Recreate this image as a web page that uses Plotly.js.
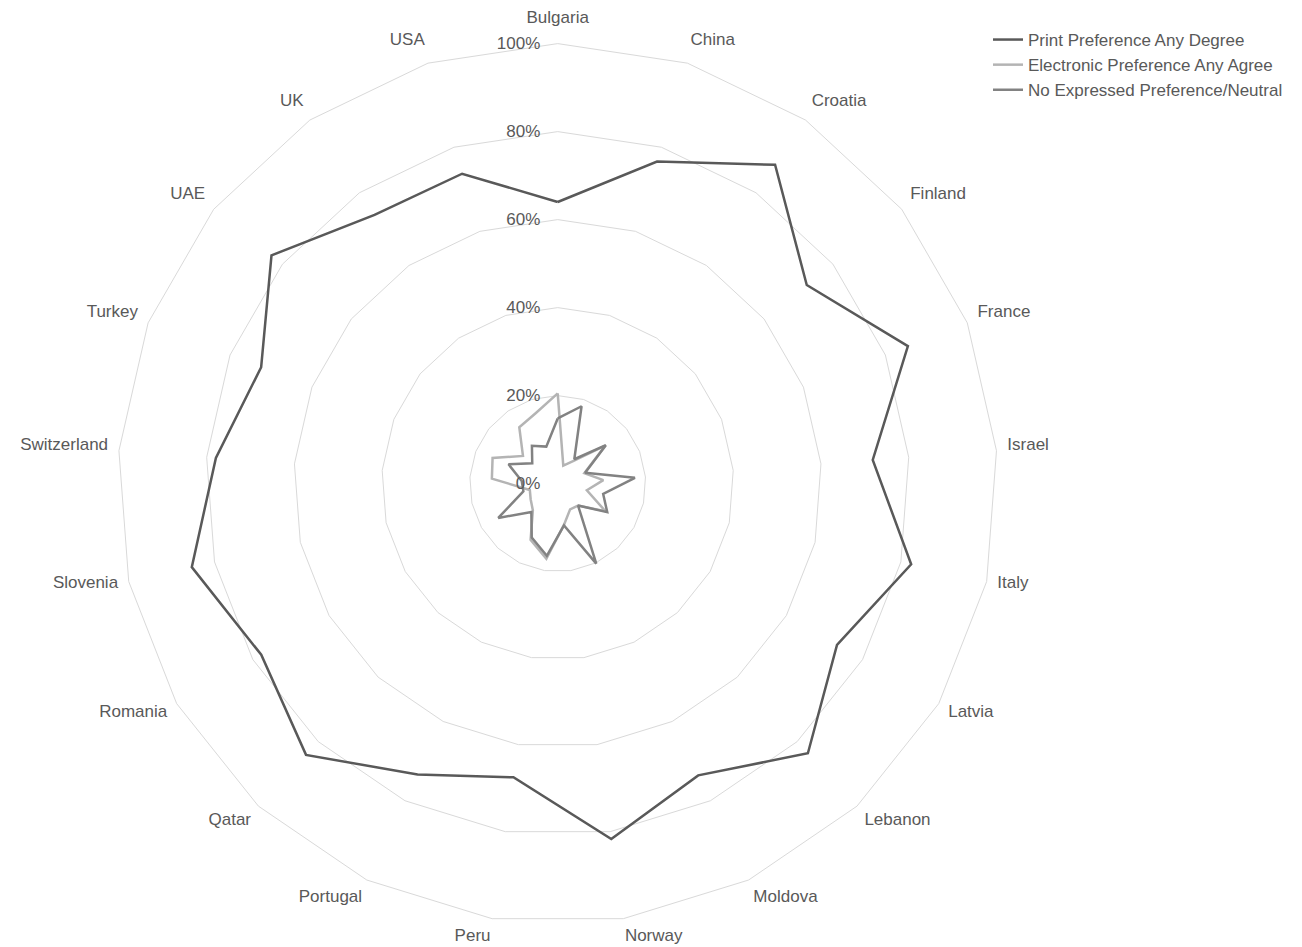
<!DOCTYPE html>
<html>
<head>
<meta charset="utf-8">
<script src="https://cdn.plot.ly/plotly-3.0.1.min.js"></script>
<style>html,body{margin:0;padding:0;background:#fff;}#chart{width:1302px;height:947px;}</style>
</head>
<body>
<div id="chart"></div>
<script>
const countries = ["Bulgaria","China","Croatia","Finland","France","Israel","Italy","Latvia","Lebanon","Moldova","Norway","Peru","Portugal","Qatar","Romania","Slovenia","Switzerland","Turkey","UAE","UK","USA"];
const printPref = [0.640,0.766,0.877,0.724,0.855,0.718,0.824,0.733,0.836,0.736,0.817,0.675,0.734,0.841,0.778,0.853,0.779,0.724,0.832,0.739,0.737];
const electronicPref = [0.205,0.043,0.062,0.138,0.065,0.104,0.068,0.125,0.068,0.065,0.095,0.173,0.142,0.083,0.071,0.065,0.150,0.159,0.101,0.155,0.168];
const neutralPref = [0.148,0.184,0.067,0.140,0.067,0.176,0.106,0.130,0.068,0.202,0.096,0.166,0.136,0.088,0.156,0.080,0.082,0.120,0.074,0.104,0.088];
const radialTicks = [0,0.2,0.4,0.6,0.8,1.0];
const radialTickText = ["0%","20%","40%","60%","80%","100%"];

function closed(arr){ return arr.concat([arr[0]]); }

const series = [
  {name:"Print Preference Any Degree", values: printPref, color:"#595959"},
  {name:"Electronic Preference Any Agree", values: electronicPref, color:"#b4b4b4"},
  {name:"No Expressed Preference/Neutral", values: neutralPref, color:"#828282"}
];

const traces = series.map(s => ({
  type:"scatterpolar",
  mode:"lines",
  name:s.name,
  r: closed(s.values),
  theta: closed(countries),
  line:{color:s.color, width:2.5},
  hoverinfo:"skip"
}));

// empty trace that only carries the category labels on a second, transparent polar frame
traces.push({
  type:"scatterpolar",
  mode:"lines",
  subplot:"polar2",
  r:[],
  theta:[],
  showlegend:false,
  hoverinfo:"skip"
});

const W = 1302, H = 947, cx = 557.7, cy = 483.6, R = 440;
const labelShift = 6;

const layout = {
  width:W, height:H,
  margin:{l:0,r:0,t:0,b:0},
  paper_bgcolor:"#ffffff",
  plot_bgcolor:"#ffffff",
  font:{family:"Liberation Sans, Arial, sans-serif", size:17, color:"#595959"},
  showlegend:true,
  legend:{
    x:988/W, y:1-22/H, xanchor:"left", yanchor:"top",
    bgcolor:"rgba(0,0,0,0)",
    font:{size:17, color:"#595959"},
    itemwidth:30, tracegroupgap:0
  },
  polar:{
    domain:{x:[(cx-R)/W,(cx+R)/W], y:[1-(cy+R)/H, 1-(cy-R)/H]},
    bgcolor:"#ffffff",
    gridshape:"linear",
    angularaxis:{
      type:"category",
      categoryarray:countries,
      direction:"clockwise",
      rotation:90,
      showgrid:false,
      showline:true,
      linecolor:"#d9d9d9",
      linewidth:1,
      ticks:"",
      showticklabels:false
    },
    radialaxis:{
      range:[0,1],
      tickvals:radialTicks,
      ticktext:radialTickText,
      angle:90,
      side:"counterclockwise",
      tickangle:90,
      showline:false,
      showgrid:true,
      gridcolor:"#d9d9d9",
      gridwidth:1,
      ticks:"outside",
      ticklen:11,
      tickcolor:"rgba(0,0,0,0)",
      tickfont:{size:17, color:"#595959"}
    }
  },
  polar2:{
    domain:{x:[(cx-R)/W,(cx+R)/W], y:[1-(cy-labelShift+R)/H, 1-(cy-labelShift-R)/H]},
    bgcolor:"rgba(0,0,0,0)",
    gridshape:"linear",
    angularaxis:{
      type:"category",
      categoryarray:countries,
      direction:"clockwise",
      rotation:90,
      showgrid:false,
      showline:false,
      ticks:"outside",
      ticklen:7,
      tickcolor:"rgba(0,0,0,0)",
      tickfont:{size:17, color:"#595959"}
    },
    radialaxis:{
      visible:false,
      range:[0,1],
      showgrid:false,
      showline:false,
      showticklabels:false
    }
  }
};

Plotly.newPlot("chart", traces, layout, {displayModeBar:false, staticPlot:true});
</script>
</body>
</html>
